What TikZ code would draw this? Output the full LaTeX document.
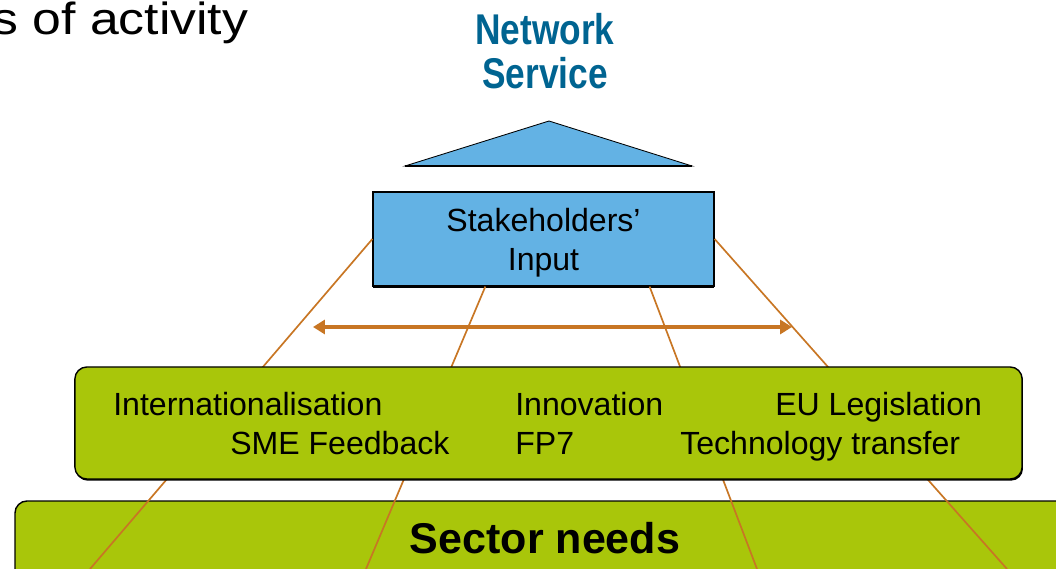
\documentclass[tikz,border=0pt]{standalone}
\usepackage{fontspec}
\setmainfont{Liberation Sans}
\usetikzlibrary{arrows.meta,calc,shadows}
\definecolor{skyblue}{RGB}{99,178,228}
\definecolor{leafgreen}{RGB}{169,198,10}
\definecolor{rust}{RGB}{200,118,36}
\definecolor{titleblue}{RGB}{0,100,145}
\tikzstyle{stakebox} = [draw, fill=skyblue, line width=0.8pt, rectangle, minimum width=8.525cm, minimum height=2.35cm, align=center, text depth=0pt, drop shadow={shadow xshift=0pt, shadow yshift=-1.4pt, fill=black, opacity=1}]
\tikzstyle{hubbox} = [draw, fill=leafgreen, line width=1pt, rectangle, rounded corners=0.3cm, minimum width=23.675cm, minimum height=2.8cm, drop shadow={shadow xshift=0.6pt, shadow yshift=-1.2pt, fill=black, opacity=1}]
\tikzstyle{item} = [anchor=base west, inner sep=0pt]
\tikzstyle{strand} = [draw=rust, line width=1.2pt]
\tikzstyle{flow} = [draw=rust, line width=2.8pt, {Triangle[length=8.5pt,width=10pt]}-{Triangle[length=8.5pt,width=10pt]}]

\begin{document}
\begin{tikzpicture}[x=0.025cm, y=-0.025cm]
    \tikzset{font={\fontsize{22.8pt}{27.7pt}\selectfont}}
    \useasboundingbox (0,0) rectangle (1056,569);

    % headings
    \node [item, font={\fontsize{32pt}{38pt}\selectfont}] (topic) at (-8,35) {\scalebox{1.15}[1]{s of activity}};
    \node [anchor=base, inner sep=0pt, text=titleblue, font={\fontsize{30.6pt}{29.9pt}\selectfont\bfseries}] (netsvc) at (545,45)
        {\scalebox{0.82}[1]{\begin{tabular}[t]{@{}c@{}}Network\\Service\end{tabular}}};

    % roof
    \coordinate (roofL) at (405,166);
    \coordinate (roofT) at (549,121);
    \coordinate (roofR) at (692,166);
    \filldraw [fill=skyblue, line width=0.6pt] (roofL) -- (roofT) -- (roofR) -- cycle;
    \draw [line width=1.8pt] (roofL) -- (roofR);

    % base
    \draw [fill=leafgreen, line width=1pt, rounded corners=0.3cm] (15,501) rectangle (1100,640);
    \node [anchor=base, inner sep=0pt, font={\fontsize{30.6pt}{36pt}\selectfont\bfseries}] (sector) at (545,553) {Sector needs};

    \node [stakebox] (stake) at (543.5,239) {Stakeholders'\\ Input};

    % pillars
    \coordinate (foot1) at (90,569);
    \coordinate (foot2) at (366,569);
    \coordinate (foot3) at (757,569);
    \coordinate (foot4) at (1007,569);
    \draw [strand] (stake.west) -- (foot1);
    \draw [strand] ($(stake.south west)!0.33!(stake.south east)$) -- (foot2);
    \draw [strand] ($(stake.south west)!0.81!(stake.south east)$) -- (foot3);
    \draw [strand] (stake.east) -- (foot4);

    \coordinate (arrL) at (313,327);
    \coordinate (arrR) at (792,327);
    \draw [flow] (arrL) -- (arrR);

    \node [hubbox] (hub) at (548.5,423) {};
    \node [item] (intl) at (113,415) {Internationalisation};
    \node [item] (innov) at (515,415) {Innovation};
    \node [item] (eulex) at (775,415) {EU Legislation};
    \node [item] (sme) at (230,454) {SME Feedback};
    \node [item] (fp7) at (515,454) {FP7};
    \node [item] (techtr) at (680,454) {Technology transfer};
\end{tikzpicture}
\end{document}
